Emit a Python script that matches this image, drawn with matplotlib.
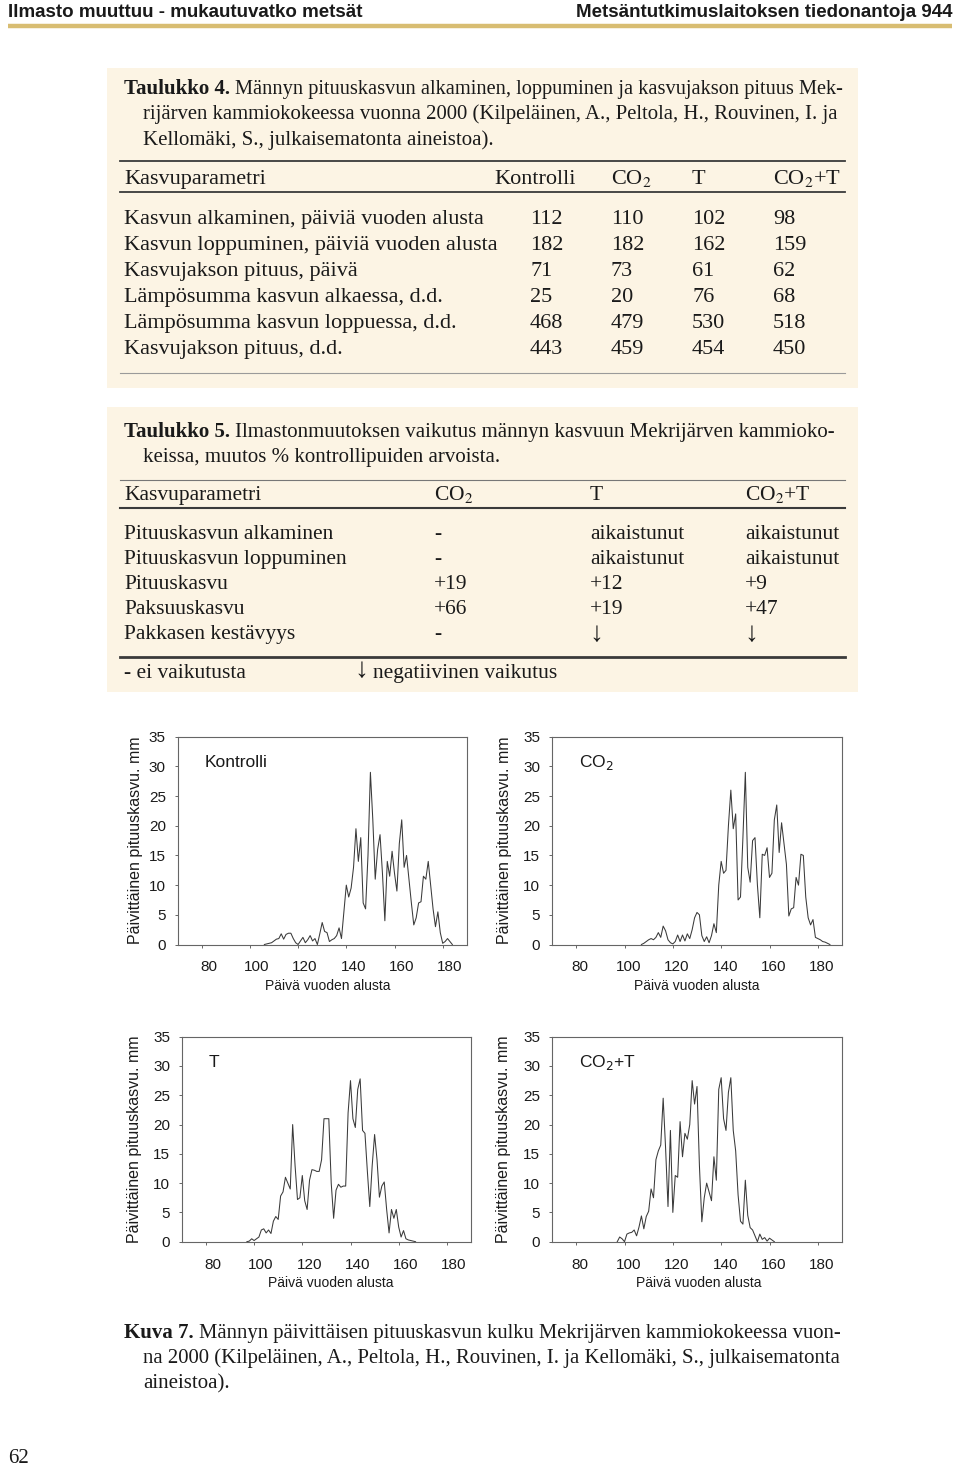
import matplotlib
matplotlib.use("Agg")
import matplotlib.pyplot as plt
from matplotlib.patches import Rectangle
from matplotlib.lines import Line2D
from matplotlib.transforms import ScaledTranslation

# --- data ---------------------------------------------------------------
header_left = "Ilmasto muuttuu - mukautuvatko metsät"
header_right = "Metsäntutkimuslaitoksen tiedonantoja 944"

t4_cols = ["Kontrolli", "CO$_2$", "T", "CO$_2$+T"]
t4_rows = ["Kasvun alkaminen, päiviä vuoden alusta",
           "Kasvun loppuminen, päiviä vuoden alusta",
           "Kasvujakson pituus, päivä",
           "Lämpösumma kasvun alkaessa, d.d.",
           "Lämpösumma kasvun loppuessa, d.d.",
           "Kasvujakson pituus, d.d."]
t4_kontrolli = [112, 182, 71, 25, 468, 443]
t4_co2 = [110, 182, 73, 20, 479, 459]
t4_t = [102, 162, 61, 76, 530, 454]
t4_co2t = [98, 159, 62, 68, 518, 450]

t5_cols = ["CO$_2$", "T", "CO$_2$+T"]
t5_rows = ["Pituuskasvun alkaminen", "Pituuskasvun loppuminen", "Pituuskasvu",
           "Paksuuskasvu", "Pakkasen kestävyys"]
t5_co2 = ["-", "-", "+19", "+66", "-"]
t5_t = ["aikaistunut", "aikaistunut", "+12", "+19", "↓"]
t5_co2t = ["aikaistunut", "aikaistunut", "+9", "+47", "↓"]

# daily height growth, mm
days_k = list(range(106, 185))
growth_k = [0, 0.1, 0.2, 0.3, 0.6, 0.9, 1.0, 1.8, 0.9, 1.7, 1.9, 1.9, 1.0, 0.3, 0,
            0.6, 1.2, 0.3, 0.8, 1.5, 0.6, 1.0, 0, 1.8, 3.7, 2.2, 2.0, 0.5, 0.8, 1.0,
            1.5, 2.8, 1.0, 5.5, 10, 8, 9.5, 13, 19.5, 14, 18, 7, 6, 15, 29, 21, 11,
            16, 18.5, 12, 4, 14, 11.5, 15.7, 12, 9, 17, 21, 13, 15, 11, 7, 3.3, 4.5,
            7, 7.2, 11.5, 11, 14, 10, 6, 3, 5.5, 2, 0.2, 0.5, 1.0, 0.5, 0]

days_c = list(range(107, 186))
growth_c = [0, 0.2, 0.5, 0.8, 1.0, 0.8, 1.2, 2.0, 1.2, 3.1, 2.3, 0.8, 0.3, 0.1, 0.5,
            1.6, 0.5, 1.6, 0.6, 1.8, 1.0, 2.5, 4.5, 5.4, 5.0, 1.5, 0.5, 1.3, 0.3, 1.5,
            3.5, 2.0, 10, 14, 12, 12.5, 20, 26, 19.5, 22, 7.5, 8, 18, 29, 13, 10.5,
            17.5, 18, 10, 4.5, 15.2, 15, 16.3, 11.3, 12, 21, 23.5, 15.5, 20.5, 17,
            13.5, 4.8, 6, 6.2, 11.3, 10, 15.2, 15, 8, 4.5, 3.3, 4.2, 1.2, 1.0, 0.8,
            0.5, 0.4, 0.2, 0]

days_t = list(range(97, 168))
growth_t = [0, 0.1, 0.5, 0.2, 0.5, 0.8, 2.0, 2.2, 1.5, 2.0, 1.4, 3.5, 4.3, 3.8, 7.8,
            8.5, 11, 10, 9, 20, 13, 7.2, 7.5, 11.3, 7, 5.5, 10.5, 12.3, 12.2, 12, 12,
            14, 21, 21, 21, 10, 4, 8.8, 9.8, 9.3, 9.5, 9.5, 22, 27.5, 21, 19.5, 26,
            27.8, 19, 18.5, 12, 6, 13, 18.3, 14, 7.6, 9.5, 10.2, 5.5, 1.5, 5.5, 4,
            5.5, 2.5, 0.8, 1.9, 0.5, 0.3, 0.2, 0.1, 0]

days_ct = list(range(97, 163))
growth_ct = [0, 0.8, 0.5, 0, 1.3, 1.5, 1.6, 2.0, 1.0, 2.5, 4.4, 2.2, 4.3, 5.2, 9, 7.5,
             14, 15.5, 16.5, 24.5, 16, 6, 19, 5, 11.3, 11, 20.5, 14.5, 18.5, 17.5, 20,
             27.5, 23.5, 26.5, 13, 3.4, 7.5, 10, 8.5, 7, 14.5, 10.5, 26, 28, 21, 19,
             25.5, 28, 19, 15.5, 8, 3.5, 3, 10.5, 4.5, 2.4, 2.0, 1.0, 0, 1.3, 0.4,
             0.7, 0.1, 0.6, 0.3, 0]

panels = [("Kontrolli", days_k, growth_k),
          ("CO$_2$", days_c, growth_c),
          ("T", days_t, growth_t),
          ("CO$_2$+T", days_ct, growth_ct)]

x_ticks = [80, 100, 120, 140, 160, 180]
y_ticks = [0, 5, 10, 15, 20, 25, 30, 35]

# --- page layout (pixel helpers) ---------------------------------------
W, H = 960, 1466
plt.rcParams['mathtext.fontset'] = 'stix'
fig = plt.figure(figsize=(W / 100, H / 100), dpi=100)
fig.patch.set_facecolor('white')
renderer = fig.canvas.get_renderer()

SERIF = ['Liberation Serif', 'DejaVu Serif']
SANS = ['Liberation Sans', 'DejaVu Sans']
CREAM = '#fcf4e4'
DARK = '#3a3a3a'
CAP = 15      # caption size
T4 = 16       # table 4 size
T5 = 15.5     # table 5 size
ARROW = 20


def fx(x):
    return x / W


def fy(y):
    return 1 - y / H


def txt(x, y, s, size=CAP, family=SERIF, **kw):
    # y is the visual middle of the line; place on a baseline so that
    # mathtext subscripts do not shift the text
    if 'va' not in kw:
        kw['va'] = 'baseline'
        y = y + 0.23 * size * 100 / 72 + 2
    kw.setdefault('ha', 'left')
    return fig.text(fx(x), fy(y), s, fontsize=size, family=family, color='#1a1a1a', **kw)


def cell(x, y, s, size):
    # arrows are drawn larger, as in the print
    if s == "↓":
        return txt(x - 1, y + 3, s, size=ARROW, va='center')
    return txt(x, y, s, size=size)


def lead(x, y, bold, rest, right=845):
    b = txt(x, y, bold, weight='bold')
    x_rest = b.get_window_extent(renderer).x1 + 5
    t = txt(x_rest, y, rest)
    fitted.append((t, right))


def hline(x0, x1, y, lw=1.0, color=DARK):
    fig.add_artist(Line2D([fx(x0), fx(x1)], [fy(y), fy(y)], lw=lw, color=color,
                          transform=fig.transFigure))


def box(x0, y0, x1, y1, color):
    fig.add_artist(Rectangle((fx(x0), fy(y1)), fx(x1) - fx(x0), fy(y0) - fy(y1),
                             transform=fig.transFigure, facecolor=color,
                             edgecolor='none', zorder=-1))


fitted = []


def fit_line(t, right=845):
    fitted.append((t, right))


# header
txt(8, 11, header_left, size=13.5, family=SANS, weight='bold')
txt(952, 11, header_right, size=13.5, family=SANS, weight='bold', ha='right')
fig.add_artist(Line2D([fx(8), fx(952)], [fy(26), fy(26)], lw=3.2, color='#d8bd72',
                      transform=fig.transFigure, solid_capstyle='butt'))

# --- table 4 ---
box(107, 68, 858, 388, CREAM)
lead(124, 87, "Taulukko 4.", "Männyn pituuskasvun alkaminen, loppuminen ja kasvujakson pituus Mek-")
fit_line(txt(143, 112, "rijärven kammiokokeessa vuonna 2000 (Kilpeläinen, A., Peltola, H., Rouvinen, I. ja"))
txt(143, 138, "Kellomäki, S., julkaisematonta aineistoa).")

hline(120, 845, 161, lw=1.3)
hline(120, 845, 192, lw=1.3)
hline(120, 845, 373, lw=0.8, color='#9a9a9a')
txt(124, 177, "Kasvuparametri", size=T4)
for cx, name in zip([494, 611, 692, 773], t4_cols):
    txt(cx, 177, name, size=T4)
t4_x = [530, 611, 692, 773]
for i, label in enumerate(t4_rows):
    ry = 217 + i * 26
    txt(124, ry, label, size=T4)
    for cx, col in zip(t4_x, [t4_kontrolli, t4_co2, t4_t, t4_co2t]):
        txt(cx, ry, str(col[i]), size=T4)

# --- table 5 ---
box(107, 407, 858, 692, CREAM)
lead(124, 430, "Taulukko 5.", "Ilmastonmuutoksen vaikutus männyn kasvuun Mekrijärven kammioko-")
txt(143, 455, "keissa, muutos % kontrollipuiden arvoista.")

hline(120, 845, 480, lw=0.8, color='#777777')
hline(120, 845, 508, lw=1.5)
hline(120, 845, 657, lw=2.0)
txt(124, 493, "Kasvuparametri", size=T5)
t5_x = [434, 590, 745]
for cx, name in zip(t5_x, t5_cols):
    txt(cx, 493, name, size=T5)
for i, label in enumerate(t5_rows):
    ry = 532 + i * 25
    txt(124, ry, label, size=T5)
    for cx, col in zip(t5_x, [t5_co2, t5_t, t5_co2t]):
        cell(cx, ry, col[i], T5)
txt(124, 671, "- ei vaikutusta", size=T5)
cell(355, 668, "↓", T5)
txt(373, 671, "negatiivinen vaikutus", size=T5)

# --- charts ---
axes_px = [(177.6, 736.7, 466.8, 944.5),
           (552.0, 736.7, 842.0, 944.5),
           (181.8, 1036.7, 471.0, 1241.7),
           (552.0, 1036.7, 842.0, 1241.7)]
tick_shift = [7, 4, 7, 4]
xlabel_pos = [0.52, 0.50, 0.515, 0.505]
ylabel_pos = [-0.145, -0.165, -0.162, -0.167]

for (name, days, growth), (l, t, r, b), sh, xlp, ylp in zip(panels, axes_px, tick_shift,
                                                           xlabel_pos, ylabel_pos):
    ax = fig.add_axes([fx(l), fy(b), fx(r) - fx(l), fy(t) - fy(b)])
    ax.plot(days, growth, color='#3a3a3a', lw=0.75)
    ax.set_xlim(70, 190)
    ax.set_ylim(0, 35)
    ax.set_xticks(x_ticks)
    ax.set_yticks(y_ticks)
    for s in ax.spines.values():
        s.set_color('#666666')
        s.set_linewidth(0.8)
    ax.tick_params(axis='both', direction='out', length=2.5, width=0.7, color='#666666',
                   labelsize=11, labelcolor='#1a1a1a')
    ax.tick_params(axis='x', pad=9)
    ax.tick_params(axis='y', pad=6)
    for lab in ax.get_xticklabels() + ax.get_yticklabels():
        lab.set_family(SANS)
    off = ScaledTranslation(sh / 100, 0, fig.dpi_scale_trans)
    for lab in ax.get_xticklabels():
        lab.set_transform(lab.get_transform() + off)
    ax.set_xlabel("Päivä vuoden alusta", fontsize=10, family=SANS, va='center', color='#1a1a1a')
    ax.xaxis.set_label_coords(xlp, -0.202)
    ax.set_ylabel("Päivittäinen pituuskasvu. mm", fontsize=11.5, family=SANS, va='center',
                  color='#1a1a1a')
    ax.yaxis.set_label_coords(ylp, 0.5)
    ax.text(0.092, 0.853, name, transform=ax.transAxes, fontsize=12.5, family=SANS,
            math_fontfamily='dejavusans', ha='left', va='baseline', color='#1a1a1a')

# --- figure caption and page number ---
lead(124, 1331, "Kuva 7.", "Männyn päivittäisen pituuskasvun kulku Mekrijärven kammiokokeessa vuon-")
fit_line(txt(143, 1356, "na 2000 (Kilpeläinen, A., Peltola, H., Rouvinen, I. ja Kellomäki, S., julkaisematonta"))
txt(143, 1382, "aineistoa).")
txt(8, 1456, "62", size=15)

# shrink over-long justified lines so they end at the right margin
for t, right in fitted:
    bb = t.get_window_extent(renderer)
    target = right - bb.x0
    if bb.width > target:
        t.set_fontsize(t.get_fontsize() * target / bb.width)

fig.savefig("out.png", dpi=100)
